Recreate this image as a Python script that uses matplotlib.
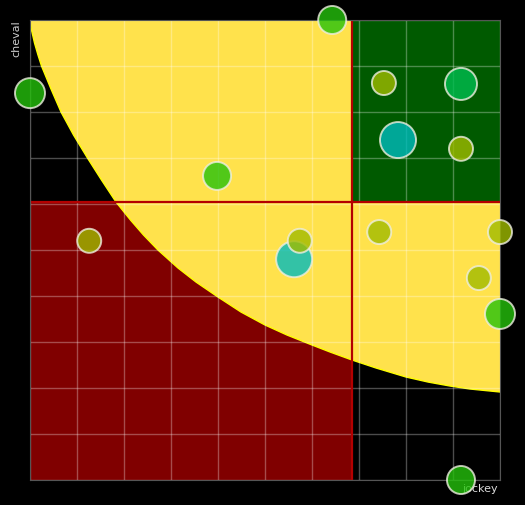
import matplotlib
matplotlib.use("Agg")
import matplotlib.pyplot as plt
from matplotlib.patches import Rectangle, Polygon

# quadrant split (jockey / cheval)
split_x = 6.85
split_y = 6.04

# boundary of the yellow zone
curve_x = [0.0, 0.032, 0.096, 0.170, 0.245, 0.447, 0.660, 0.926, 1.223, 1.521, 1.830,
           2.138, 2.415, 2.723, 3.149, 3.532, 4.0, 4.489, 5.0, 5.468, 6.0, 6.383,
           6.851, 7.362, 8.0, 8.468, 8.936, 9.362, 10.0]
curve_y = [10.0, 9.783, 9.500, 9.239, 9.0, 8.5, 8.0, 7.5, 7.0, 6.522, 6.043,
           5.652, 5.326, 5.0, 4.609, 4.304, 3.978, 3.652, 3.370, 3.152, 2.935, 2.783,
           2.609, 2.435, 2.239, 2.130, 2.043, 1.978, 1.913]

# bubbles
pt_x = [0.0, 6.43, 7.53, 9.17, 7.83, 9.17, 3.98, 1.26, 5.62, 5.74, 7.43, 10.0, 9.55, 10.0, 9.17]
pt_y = [8.41, 10.0, 8.63, 8.61, 7.39, 7.2, 6.61, 5.2, 4.80, 5.2, 5.39, 5.39, 4.39, 3.61, 0.0]
pt_r = [15, 14, 12, 16, 18, 12, 14, 12, 18, 12, 12, 12, 12, 15, 14]
pt_cat = ["green", "green", "olive", "emerald", "teal", "olive", "green", "olive",
          "teal", "olive", "olive", "olive", "olive", "green", "green"]

cat_colors = {
    "green": "#25c20c",
    "olive": "#a0bb00",
    "teal": "#00bbbe",
    "emerald": "#00be50",
}

fig = plt.figure(figsize=(5.25, 5.05), dpi=100, facecolor="black")
ax = fig.add_axes([30 / 525, 25 / 505, 470 / 525, 460 / 505])
ax.set_facecolor("black")
ax.set_xlim(0, 10)
ax.set_ylim(0, 10)

# background zones
ax.add_patch(Rectangle((0, 0), split_x, split_y, facecolor="#800000", edgecolor="none", zorder=0.5))
yellow = list(zip(curve_x, curve_y)) + [(10, 10)]
ax.add_patch(Polygon(yellow, closed=True, facecolor="#ffe24c", edgecolor="none", zorder=0.6))
ax.plot(curve_x, curve_y, color="#ffff00", lw=1.0, zorder=0.7)
ax.add_patch(Rectangle((split_x, split_y), 10 - split_x, 10 - split_y,
                       facecolor="#005a00", edgecolor="none", zorder=0.8))

# grid
ax.set_xticks(range(11))
ax.set_yticks(range(11))
ax.tick_params(length=0, labelbottom=False, labelleft=False)
ax.grid(True, color="white", alpha=0.3, lw=1.0)
for s in ax.spines.values():
    s.set_color("#555555")

# split lines
ax.axvline(split_x, color="#b40000", lw=1.6, zorder=2)
ax.axhline(split_y, color="#b40000", lw=1.6, zorder=2)

# labels (below bubbles)
ax.text(-0.18, 10.0, "cheval", rotation=90, ha="right", va="top", color="#cccccc",
        fontsize=8, clip_on=False, zorder=2.5)
ax.text(9.95, -0.08, "jockey", ha="right", va="top", color="#dddddd",
        fontsize=8, clip_on=False, zorder=2.5)

# bubbles
sizes = [(2 * r * 0.72) ** 2 for r in pt_r]
colors = [cat_colors[c] for c in pt_cat]
ax.scatter(pt_x, pt_y, s=sizes, c=colors, alpha=0.8, edgecolors="#eeeee0",
           linewidths=1.4, clip_on=False, zorder=3)

fig.savefig("out.png", dpi=100, facecolor="black")
